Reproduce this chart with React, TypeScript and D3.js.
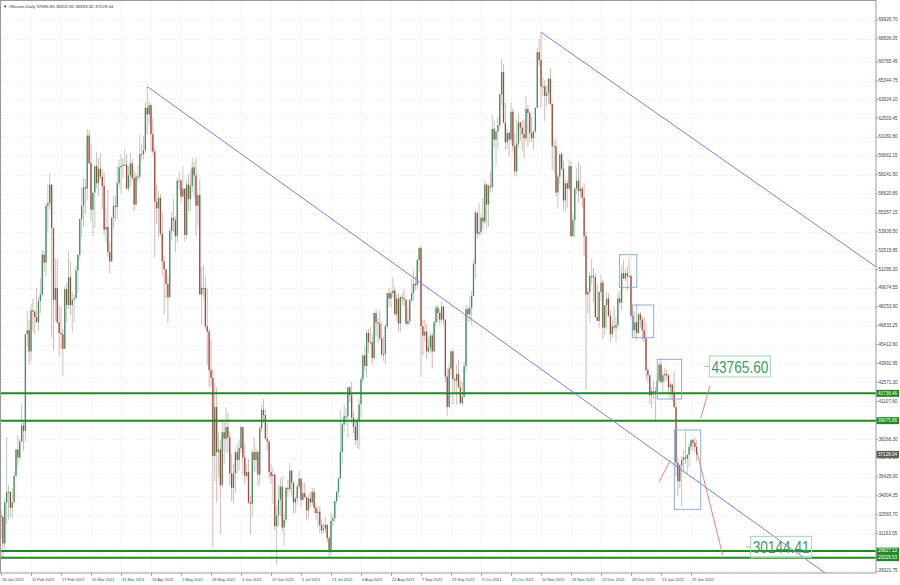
import React, { useEffect, useRef } from 'react';
import * as d3 from 'd3';

const WIDTH = 900;
const HEIGHT = 585;

// daily candles of #Bitcoin, Daily; open = previous close
// each row: [high, low, close] in thousands of USD
const firstOpen = 32.5;
const jan21 = [
  [32.9, 30.8, 32.4], [32.6, 29.3, 30.4], [33.8, 30.0, 33.5], [38.4, 31.9, 34.3], [34.8, 32.2, 34.3],
  [34.3, 32.4, 33.1],
];
const feb21 = [
  [34.6, 32.3, 33.5], [35.8, 33.5, 35.5], [37.5, 35.4, 37.5], [38.6, 36.2, 36.9], [38.3, 36.7, 38.1],
  [40.9, 38.1, 39.3], [39.6, 37.4, 38.9], [46.2, 38.1, 46.2], [48.0, 45.2, 46.5], [47.3, 43.9, 44.9],
  [48.5, 44.2, 48.0], [48.9, 46.4, 47.9], [48.0, 46.2, 47.5], [49.7, 47.1, 47.1], [49.0, 46.4, 48.7],
  [50.4, 47.8, 49.2], [52.6, 49.0, 52.2], [52.5, 50.9, 51.6], [56.1, 50.6, 55.9], [57.5, 54.0, 56.1],
  [58.4, 55.6, 57.5], [57.5, 46.0, 54.2], [54.2, 45.0, 48.8], [51.9, 47.2, 49.7], [51.9, 47.0, 47.1],
  [48.4, 44.5, 46.3], [48.2, 45.1, 46.2], [46.6, 43.1, 45.1],
];
const mar21 = [
  [49.8, 45.1, 49.6], [50.1, 47.1, 48.4], [52.5, 48.1, 50.5], [51.7, 47.7, 48.4], [49.4, 46.3, 48.8],
  [49.2, 47.1, 48.9], [51.4, 48.9, 51.0], [52.2, 49.3, 52.2], [54.9, 51.9, 54.9], [57.3, 53.5, 55.9],
  [58.0, 54.3, 57.3], [57.9, 55.3, 57.2], [61.7, 56.3, 61.2], [61.6, 59.1, 59.1], [60.6, 54.7, 55.6],
  [56.8, 53.6, 56.9], [58.9, 54.2, 58.9], [60.0, 57.2, 57.6], [59.5, 56.7, 58.7], [59.9, 57.9, 58.1],
  [58.6, 55.6, 57.4], [58.4, 53.7, 54.1], [55.8, 53.1, 54.3], [57.1, 52.0, 52.4], [53.2, 50.8, 51.7],
  [55.0, 51.7, 55.0], [56.6, 54.2, 55.9], [56.6, 54.7, 55.8], [58.9, 54.9, 57.6], [59.4, 57.3, 58.8],
  [59.8, 56.8, 58.9],
];
const apr21 = [
  [59.5, 58.0, 59.0], [60.2, 58.9, 59.0], [59.8, 57.1, 57.2], [58.9, 57.0, 58.2], [59.9, 57.4, 59.1],
  [59.4, 57.8, 58.0], [58.6, 55.5, 56.0], [58.3, 55.9, 58.1], [58.9, 57.7, 58.1], [61.3, 57.9, 59.8],
  [60.6, 59.3, 59.8], [61.2, 59.4, 60.1], [63.7, 59.9, 63.3], [64.9, 61.3, 62.8], [63.8, 62.0, 63.5],
  [63.6, 60.0, 61.3], [62.5, 59.7, 60.0], [60.3, 52.0, 56.2], [57.5, 54.5, 55.7], [57.0, 53.5, 56.5],
  [56.8, 53.6, 53.8], [55.4, 50.6, 51.7], [52.1, 47.7, 51.1], [51.1, 48.9, 50.0], [50.5, 47.0, 49.0],
  [54.3, 48.9, 54.0], [55.4, 53.3, 55.0], [56.4, 53.9, 54.8], [55.1, 52.4, 53.6], [58.0, 53.1, 57.8],
];
const may21 = [
  [58.5, 57.1, 57.8], [57.9, 56.1, 56.6], [58.9, 56.5, 57.2], [57.2, 53.2, 53.7], [57.9, 53.4, 57.5],
  [58.3, 55.5, 56.4], [58.6, 55.5, 57.4], [59.5, 56.9, 58.8], [59.2, 56.5, 58.2], [59.5, 53.6, 55.9],
  [56.9, 54.4, 56.7], [57.9, 49.2, 49.2], [51.3, 46.9, 49.7], [51.4, 48.9, 49.7], [50.6, 46.6, 46.8],
  [49.7, 43.9, 46.4], [46.6, 42.2, 43.5], [45.8, 42.3, 42.9], [43.5, 30.1, 37.0], [42.5, 35.1, 40.7],
  [42.2, 33.5, 37.3], [38.8, 35.4, 37.5], [38.2, 31.1, 34.8], [39.8, 34.6, 38.8], [39.7, 36.4, 38.3],
  [40.7, 37.3, 39.2], [40.3, 37.2, 38.4], [38.8, 34.8, 35.7], [37.2, 33.6, 34.6], [36.4, 33.4, 35.7],
  [37.5, 34.2, 37.3],
];
const jun21 = [
  [37.9, 35.7, 36.7], [38.2, 35.9, 37.6], [39.3, 37.2, 39.2], [39.2, 35.6, 36.9], [37.9, 34.8, 35.5],
  [36.4, 35.3, 35.8], [36.8, 33.4, 33.5], [34.0, 31.1, 33.4], [37.5, 32.4, 37.3], [38.4, 35.8, 36.7],
  [37.7, 35.9, 37.3], [37.4, 34.7, 35.6], [39.3, 34.8, 39.1], [40.9, 38.8, 40.5], [41.3, 39.5, 40.1],
  [40.5, 38.2, 38.3], [39.5, 37.4, 38.1], [38.2, 35.3, 35.8], [36.4, 34.9, 35.5], [36.1, 33.4, 35.6],
  [35.7, 31.4, 31.7], [33.3, 28.8, 32.5], [34.8, 31.7, 33.7], [35.3, 32.4, 34.7], [35.5, 31.3, 31.6],
  [32.7, 30.2, 32.2], [34.7, 32.0, 34.6], [35.2, 33.9, 34.5], [36.5, 34.3, 35.9], [36.0, 34.0, 35.0],
];
const jul21 = [
  [35.0, 32.7, 33.5], [33.9, 32.7, 33.8], [34.9, 33.3, 34.7], [35.9, 34.5, 35.3], [35.3, 33.2, 33.7],
  [35.0, 33.6, 34.2], [35.0, 33.8, 33.9], [33.9, 32.1, 32.9], [34.1, 32.3, 33.8], [34.3, 33.1, 33.5],
  [34.6, 33.3, 34.3], [34.6, 32.7, 33.1], [33.3, 32.2, 32.7], [33.1, 31.6, 32.8], [33.2, 31.2, 31.8],
  [32.2, 31.1, 31.4], [31.9, 31.2, 31.5], [32.4, 31.2, 31.8], [31.9, 30.5, 30.8], [31.0, 29.3, 29.8],
  [32.8, 29.5, 32.1], [32.6, 31.7, 32.3], [33.6, 32.0, 33.6], [34.4, 33.4, 34.3], [35.4, 33.9, 35.3],
  [40.5, 35.3, 37.3], [39.5, 36.4, 39.4], [40.9, 38.8, 40.0], [40.6, 39.3, 40.0], [42.2, 38.4, 42.2],
  [42.3, 41.1, 41.6],
];
const aug21 = [
  [42.6, 39.5, 39.9], [40.4, 38.7, 39.2], [39.8, 37.8, 38.2], [39.9, 37.6, 39.7], [41.3, 37.5, 40.9],
  [43.0, 39.9, 42.8], [44.7, 42.5, 44.6], [45.3, 43.4, 43.8], [46.5, 42.9, 46.3], [46.6, 44.8, 45.6],
  [46.7, 45.4, 45.6], [46.2, 43.9, 44.4], [47.8, 44.2, 47.8], [48.1, 46.0, 47.1], [47.4, 45.5, 47.0],
  [48.0, 45.7, 45.9], [47.1, 44.5, 44.7], [46.0, 44.2, 44.7], [47.0, 43.9, 46.8], [49.3, 46.6, 49.3],
  [49.7, 48.3, 48.9], [49.5, 48.2, 49.3], [50.5, 49.0, 49.5], [49.8, 47.7, 47.7], [49.2, 47.2, 48.9],
  [49.3, 46.4, 47.0], [49.1, 46.4, 49.0], [49.3, 48.4, 48.9], [49.6, 48.3, 48.8], [48.9, 46.9, 47.0],
  [48.2, 46.8, 47.2],
];
const sep21 = [
  [48.9, 46.9, 48.8], [50.4, 48.6, 49.3], [51.0, 48.7, 50.0], [50.6, 49.5, 49.9], [51.9, 49.6, 51.8],
  [52.8, 50.9, 52.7], [52.9, 43.0, 46.8], [47.3, 44.6, 46.1], [47.3, 45.6, 46.4], [47.0, 44.3, 44.9],
  [45.9, 44.8, 45.2], [46.4, 44.8, 46.1], [46.3, 43.6, 44.9], [47.2, 44.8, 47.1], [48.4, 46.8, 48.2],
  [48.4, 47.1, 47.8], [48.1, 46.9, 47.3], [48.7, 47.1, 48.3], [48.3, 46.9, 47.3], [47.3, 42.6, 43.0],
  [43.6, 40.0, 40.7], [44.0, 40.6, 43.6], [45.0, 43.1, 44.9], [45.1, 40.9, 42.8], [42.9, 41.7, 42.7],
  [43.9, 40.9, 43.2], [44.3, 42.1, 42.2], [42.7, 40.9, 41.0], [42.6, 40.8, 41.5], [44.1, 41.4, 43.8],
];
const oct21 = [
  [48.4, 43.3, 48.1], [48.3, 47.1, 47.7], [49.1, 47.1, 48.2], [49.5, 46.9, 49.1], [51.8, 49.1, 51.5],
  [55.6, 50.4, 55.4], [55.2, 53.4, 53.8], [56.1, 53.6, 53.9], [55.3, 53.7, 55.0], [56.5, 54.1, 54.7],
  [57.8, 54.5, 57.5], [57.6, 54.2, 56.0], [57.6, 54.3, 57.4], [58.5, 56.9, 57.3], [62.8, 56.9, 61.7],
  [62.3, 60.3, 60.9], [61.6, 58.9, 61.5], [62.6, 60.2, 62.0], [64.4, 61.7, 64.3], [67.0, 63.5, 66.0],
  [66.6, 62.1, 62.2], [63.7, 60.1, 60.7], [61.7, 60.2, 61.4], [61.5, 59.6, 60.9], [63.7, 60.6, 63.0],
  [63.3, 59.9, 60.4], [61.4, 58.1, 58.5], [62.4, 58.2, 60.6], [62.9, 60.3, 62.2], [62.2, 60.8, 61.8],
  [62.4, 60.0, 61.3],
];
const nov21 = [
  [62.4, 59.5, 61.0], [64.2, 60.7, 63.2], [63.5, 60.4, 62.9], [63.0, 60.7, 61.4], [62.6, 60.7, 61.0],
  [61.6, 60.1, 61.5], [63.3, 61.4, 63.3], [67.8, 63.3, 67.5], [68.5, 66.4, 66.9], [69.0, 63.3, 64.9],
  [65.6, 64.2, 64.9], [65.4, 62.3, 64.2], [65.0, 63.4, 64.4], [65.5, 63.6, 65.5], [66.3, 63.5, 63.6],
  [63.6, 58.6, 60.4], [60.9, 58.4, 60.4], [60.9, 56.6, 56.9], [58.3, 55.7, 58.1], [59.8, 57.5, 59.8],
  [60.0, 58.5, 58.7], [59.3, 55.6, 56.3], [57.8, 55.4, 57.6], [57.8, 55.7, 57.2], [59.4, 57.0, 58.9],
  [59.2, 53.5, 53.6], [55.3, 53.6, 54.8], [57.3, 53.5, 57.2], [58.8, 56.8, 57.8], [59.2, 56.1, 57.0],
];
const dec21 = [
  [59.0, 56.5, 57.2], [57.4, 55.8, 56.5], [57.6, 52.1, 53.6], [53.9, 42.0, 49.2], [49.7, 47.8, 49.4],
  [50.9, 47.1, 50.6], [51.9, 50.0, 50.6], [51.2, 48.6, 50.5], [50.8, 47.4, 47.5], [50.0, 47.3, 47.2],
  [49.4, 46.7, 49.4], [50.7, 48.7, 50.1], [50.3, 45.8, 46.7], [48.4, 46.1, 48.4], [49.4, 46.6, 48.9],
  [49.3, 47.5, 47.6], [48.0, 45.6, 46.2], [47.3, 45.9, 46.8], [48.3, 46.4, 46.7], [47.5, 45.6, 46.9],
  [49.3, 46.6, 48.9], [49.5, 48.5, 48.6], [51.4, 48.0, 50.8], [51.8, 50.4, 50.4], [51.1, 50.2, 50.8],
  [51.3, 49.5, 50.6], [52.0, 50.5, 50.6], [50.7, 47.4, 47.6], [48.1, 46.1, 46.5], [47.9, 46.0, 47.1],
  [48.5, 45.7, 46.3],
];
const jan22 = [
  [47.8, 46.2, 47.7], [47.9, 46.7, 47.3], [47.5, 45.7, 46.5], [47.5, 45.6, 45.9], [47.1, 42.8, 43.5],
  [43.7, 42.5, 43.1], [43.1, 40.9, 41.6], [42.2, 40.6, 41.9], [42.7, 41.3, 41.9], [42.2, 39.7, 41.8],
  [43.0, 41.3, 42.7], [44.1, 42.5, 43.9], [44.4, 42.4, 42.6], [43.4, 41.7, 43.1], [43.7, 42.6, 43.2],
  [43.5, 42.7, 43.1], [43.1, 41.6, 42.2], [42.6, 41.3, 42.4], [42.5, 41.2, 41.7], [43.4, 40.6, 40.7],
  [41.1, 35.5, 36.5], [36.8, 34.0, 35.1], [36.4, 34.6, 36.3], [37.0, 33.2, 36.7], [37.5, 35.8, 36.9],
  [38.9, 36.4, 36.8], [37.1, 35.6, 37.1], [38.0, 36.2, 37.7], [38.3, 37.4, 38.2], [38.3, 37.4, 38.0],
  [38.4, 37.3, 37.68685],
];
const feb22 = [[38.20282, 36.58382, 37.12804]];

const dateLabels = [
  '26 Jan 2021', '11 Feb 2021', '27 Feb 2021', '15 Mar 2021', '31 Mar 2021', '16 Apr 2021',
  '2 May 2021', '18 May 2021', '3 Jun 2021', '19 Jun 2021', '5 Jul 2021', '21 Jul 2021',
  '6 Aug 2021', '22 Aug 2021', '7 Sep 2021', '23 Sep 2021', '9 Oct 2021', '25 Oct 2021',
  '10 Nov 2021', '26 Nov 2021', '12 Dec 2021', '28 Dec 2021', '13 Jan 2022', '29 Jan 2022',
];
const labelStepDays = 16;

const priceLabels = [
  69926.70, 68506.05, 66765.45, 65344.75, 63924.10, 62503.45, 61082.80, 59662.15, 58241.50,
  56820.85, 55357.15, 53936.50, 52515.85, 51095.20, 49674.55, 48253.90, 46833.25, 45412.60,
  43991.95, 42571.30, 41107.60, 39686.95, 38266.30, 36845.65, 35425.00, 34004.35, 32583.70,
  31163.05, 29742.40, 28321.75,
];

const levels = [41736.46, 39675.86, 29827.13, 29329.53];
const lastPrice = 37128.04;
const header = '▼ #Bitcoin,Daily  37686.85 38202.82 36583.82 37128.04';

// drawn objects: [day index, price]
const trendLines = [
  [[78, 64900], [400, 32185]],
  [[288, 69000], [460, 51955]],
];
const arrows = [
  [[351, 35050], [357, 36700]],
  [[373.2, 39853], [378.1, 42315]],
  [[371.2, 37307], [384.9, 29530]],
];
const boxes = [
  [[329.8, 52205], [339.1, 49744]],
  [[336.7, 48406], [348.1, 45937]],
  [[350.0, 44306], [363.0, 41308]],
  [[359.1, 38969], [373.2, 32981]],
];
const priceTexts = [
  { day: 377.8, price: 43765.60 },
  { day: 399.8, price: 30144.41 },
];

const App: React.FC = () => {
  const svgRef = useRef<SVGSVGElement>(null);

  useEffect(() => {
    if (!svgRef.current) return;
    const svg = d3.select(svgRef.current);
    svg.selectAll('*').remove();

    const left = 1, top = 1, right = 876, bottom = 573;
    const font = '"Liberation Sans", Arial, sans-serif';

    // build candles
    const rows = [jan21, feb21, mar21, apr21, may21, jun21, jul21, aug21, sep21, oct21, nov21, dec21, jan22, feb22].flat();
    let prev = firstOpen * 1000;
    const candles = rows.map((r, i) => {
      const c = { i, open: prev, high: r[0] * 1000, low: r[1] * 1000, close: r[2] * 1000 };
      prev = c.close;
      return c;
    });
    candles[candles.length - 1].open = 37686.85;

    const x = d3.scaleLinear().domain([0, 368]).range([1, 691]);
    const y = d3.scaleLinear().domain([28321.75, 69926.70]).range([571, 20]);

    svg.append('rect').attr('width', WIDTH).attr('height', HEIGHT).attr('fill', '#ffffff');

    svg.append('defs').append('clipPath').attr('id', 'plot')
      .append('rect').attr('x', left).attr('y', top).attr('width', right - left).attr('height', bottom - top);

    // grid
    const grid = svg.append('g').attr('stroke', '#dcdcdc').attr('stroke-width', 0.6).attr('stroke-dasharray', '1,2');
    dateLabels.forEach((_d, k) => {
      const gx = Math.round(x(k * labelStepDays)) + 0.5;
      grid.append('line').attr('x1', gx).attr('x2', gx).attr('y1', top).attr('y2', bottom);
    });
    priceLabels.forEach(p => {
      const gy = Math.round(y(p)) + 0.5;
      grid.append('line').attr('x1', left).attr('x2', right).attr('y1', gy).attr('y2', gy);
    });

    const plot = svg.append('g').attr('clip-path', 'url(#plot)');

    // candles
    const cg = plot.append('g');
    candles.forEach(d => {
      const up = d.close >= d.open;
      const cx = x(d.i);
      cg.append('line')
        .attr('x1', cx).attr('x2', cx)
        .attr('y1', y(d.high)).attr('y2', y(d.low))
        .attr('stroke', up ? '#b7c5ba' : '#d2afab')
        .attr('stroke-width', 0.9);
      const y0 = y(Math.max(d.open, d.close));
      const h = Math.max(1, Math.abs(y(d.open) - y(d.close)));
      cg.append('rect')
        .attr('x', cx - 0.65).attr('y', y0)
        .attr('width', 1.3).attr('height', h)
        .attr('fill', up ? '#3c8f5c' : '#a8453a');
    });

    // green levels
    levels.forEach(p => {
      plot.append('line')
        .attr('x1', left).attr('x2', right)
        .attr('y1', y(p)).attr('y2', y(p))
        .attr('stroke', '#1f8a1f').attr('stroke-width', 2);
    });

    // trend lines, extended to the right edge
    trendLines.forEach(([a, b]) => {
      const x1 = x(a[0]), y1 = y(a[1]), x2 = x(b[0]), y2 = y(b[1]);
      const k = (y2 - y1) / (x2 - x1);
      plot.append('line')
        .attr('x1', x1).attr('y1', y1)
        .attr('x2', right).attr('y2', y1 + k * (right - x1))
        .attr('stroke', '#7b7bf2').attr('stroke-width', 1);
    });

    arrows.forEach(([a, b]) => {
      plot.append('line')
        .attr('x1', x(a[0])).attr('y1', y(a[1]))
        .attr('x2', x(b[0])).attr('y2', y(b[1]))
        .attr('stroke', '#f07070').attr('stroke-width', 0.9);
    });

    boxes.forEach(([a, b]) => {
      plot.append('rect')
        .attr('x', x(a[0])).attr('y', y(a[1]))
        .attr('width', x(b[0]) - x(a[0])).attr('height', y(b[1]) - y(a[1]))
        .attr('fill', 'none').attr('stroke', '#7fa7d3').attr('stroke-width', 0.9);
    });

    priceTexts.forEach(t => {
      const tx = x(t.day), ty = y(t.price);
      plot.append('line')
        .attr('x1', tx - 5).attr('x2', tx).attr('y1', ty).attr('y2', ty)
        .attr('stroke', '#8cc8a4').attr('stroke-width', 1);
      plot.append('rect')
        .attr('x', tx).attr('y', ty - 10.5).attr('width', 61).attr('height', 21)
        .attr('fill', 'none').attr('stroke', '#a6d6b8').attr('stroke-width', 1);
      plot.append('text')
        .attr('x', tx + 2).attr('y', ty + 6.5)
        .attr('font-family', font)
        .attr('font-size', 17)
        .attr('textLength', 57).attr('lengthAdjust', 'spacingAndGlyphs')
        .attr('fill', '#3d9c66')
        .text(t.price.toFixed(2));
    });

    // frame
    svg.append('rect')
      .attr('x', left - 0.5).attr('y', top - 0.5)
      .attr('width', right - left + 0.5).attr('height', bottom - top + 0.5)
      .attr('fill', 'none').attr('stroke', '#9a9a9a').attr('stroke-width', 1);

    // header
    svg.append('text')
      .attr('x', 3).attr('y', 7.5)
      .attr('font-family', font).attr('font-size', 4.4)
      .attr('fill', '#333').text(header);

    // bottom axis
    const bx = svg.append('g').attr('font-family', font).attr('font-size', 4).attr('fill', '#444');
    dateLabels.forEach((d, k) => {
      const gx = Math.round(x(k * labelStepDays)) + 0.5;
      bx.append('line').attr('x1', gx).attr('x2', gx).attr('y1', bottom).attr('y2', bottom + 3)
        .attr('stroke', '#888').attr('stroke-width', 0.7);
      bx.append('text').attr('x', gx + 0.5).attr('y', bottom + 8).text(d);
    });

    // right axis
    const ry = svg.append('g').attr('font-family', font).attr('font-size', 4.6).attr('fill', '#444');
    priceLabels.forEach(p => {
      const gy = y(p);
      ry.append('line').attr('x1', right).attr('x2', right + 2).attr('y1', gy).attr('y2', gy)
        .attr('stroke', '#888').attr('stroke-width', 0.7);
      ry.append('text').attr('x', right + 2.5).attr('y', gy).attr('dominant-baseline', 'middle')
        .text(p.toFixed(2));
    });

    const tag = (p: number, fill: string) => {
      const gy = y(p);
      ry.append('rect').attr('x', right + 0.5).attr('y', gy - 3.5).attr('width', 22.5).attr('height', 7).attr('fill', fill);
      ry.append('text').attr('x', right + 2).attr('y', gy).attr('dominant-baseline', 'middle')
        .attr('fill', '#ffffff').text(p.toFixed(2));
    };
    levels.forEach(p => tag(p, '#1f8a1f'));
    tag(lastPrice, '#5a5a5a');
  }, []);

  return (
    <svg
      ref={svgRef}
      width={WIDTH}
      height={HEIGHT}
      style={{ display: 'block', position: 'absolute', left: 0, top: 0 }}
    />
  );
};

export default App;
